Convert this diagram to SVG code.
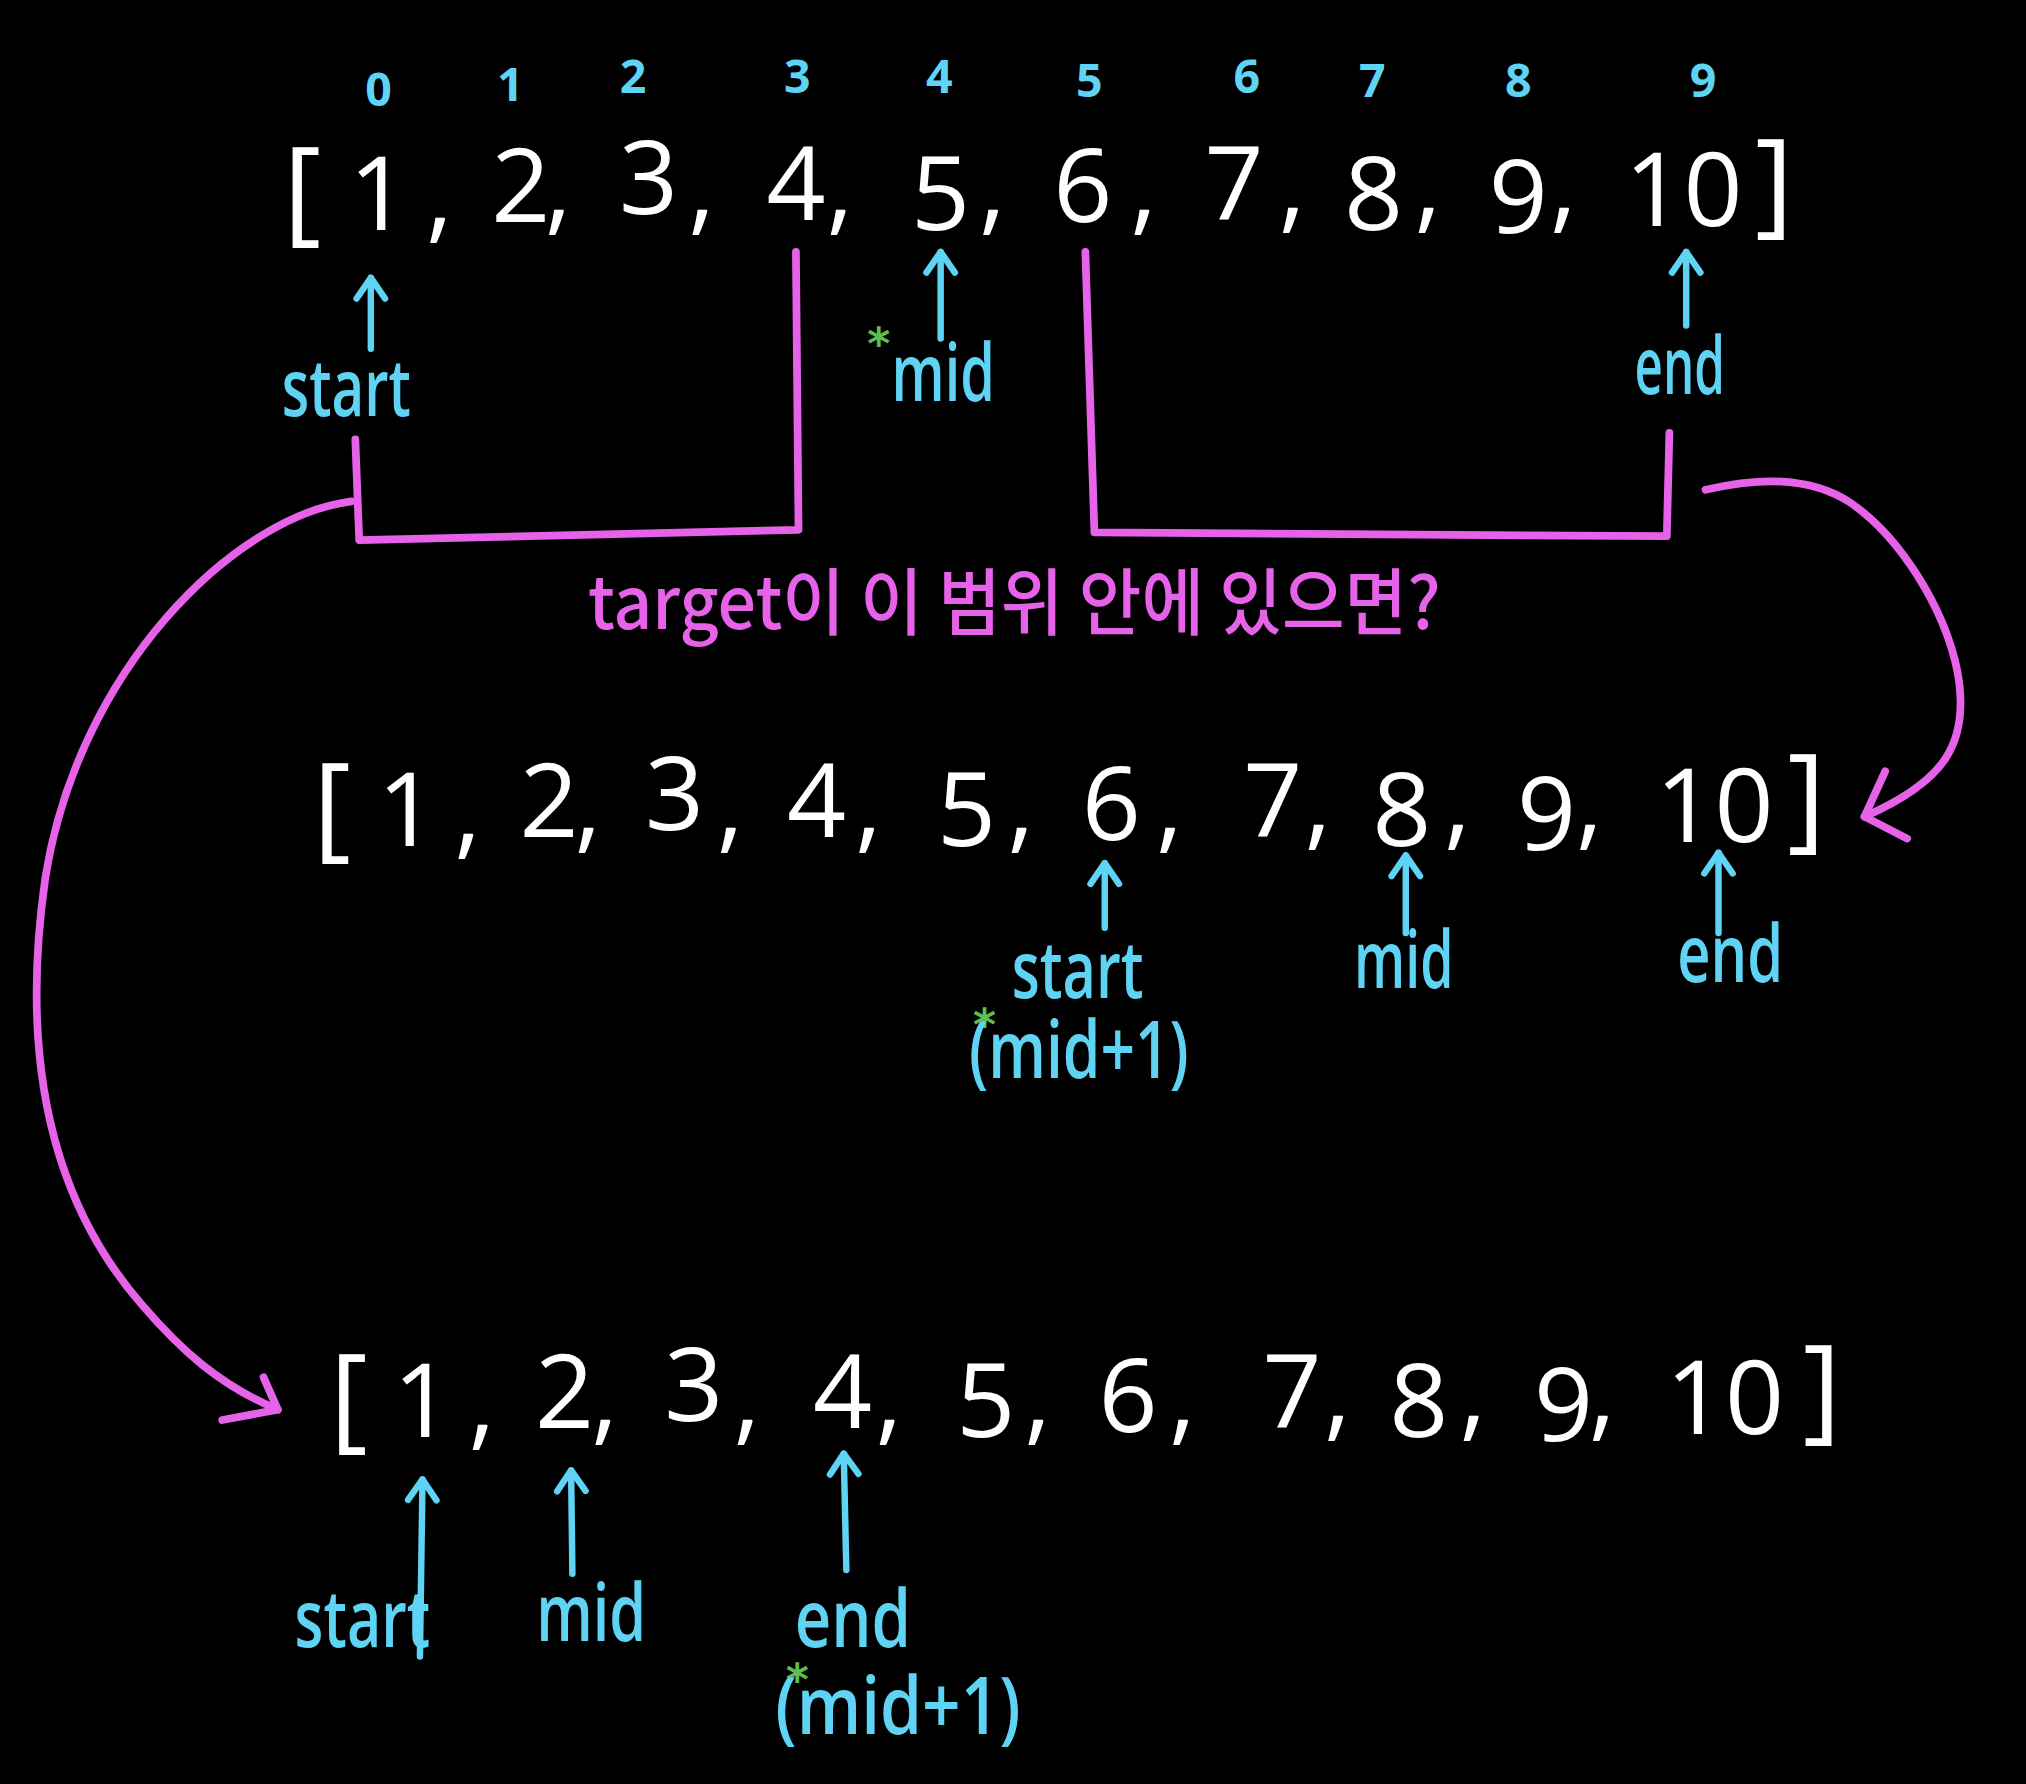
<svg xmlns="http://www.w3.org/2000/svg" width="2026" height="1784" viewBox="0 0 2026 1784">
<defs>
<style>
.num{font-family:"Open Sans","Noto Sans",sans-serif;font-weight:400;font-size:80px;fill:#ffffff;text-anchor:middle}
.br{font-family:"Open Sans","Noto Sans",sans-serif;font-weight:400;font-size:90px;fill:#ffffff;text-anchor:middle}
.idx{font-family:"Open Sans","Noto Sans",sans-serif;font-weight:700;font-size:36px;fill:#5fd3f3;text-anchor:middle}
.lbl{font-family:"Open Sans","Noto Sans",sans-serif;font-weight:600;font-size:62px;fill:#5fd3f3}
.ast{font-family:"DejaVu Sans",sans-serif;font-weight:700;font-size:34px;fill:#5cbf4f;text-anchor:middle}
.kr{font-family:"Noto Sans CJK KR","Noto Sans",sans-serif;font-weight:500;font-size:56px;fill:#e562e9}
.ar{fill:none;stroke:#5fd3f3;stroke-width:5;stroke-linecap:round}
.mg{fill:none;stroke:#e562e9;stroke-width:6;stroke-linecap:round;stroke-linejoin:round}
</style>
<marker id="up" markerUnits="userSpaceOnUse" markerWidth="40" markerHeight="40" refX="0" refY="0" viewBox="-20 -20 40 40" orient="auto" overflow="visible">
<path d="M-16,-11 L0,0 L-16,11" fill="none" stroke="#5fd3f3" stroke-width="5" stroke-linecap="round" stroke-linejoin="round"/>
</marker>
</defs>
<rect x="0" y="0" width="2026" height="1784" fill="#000000"/>
<g transform="scale(1.2921)">
<g id="indices">
<text class="idx" x="293" y="82">0</text>
<text class="idx" x="395" y="78">1</text>
<text class="idx" x="490" y="72">2</text>
<text class="idx" x="617" y="72">3</text>
<text class="idx" x="727" y="72">4</text>
<text class="idx" x="843" y="75">5</text>
<text class="idx" x="965" y="72">6</text>
<text class="idx" x="1062" y="75">7</text>
<text class="idx" x="1175" y="75">8</text>
<text class="idx" x="1318" y="75">9</text>
</g>
<g id="array1">
<text class="br" x="234" y="178">[</text>
<text class="num" x="293" y="178">1</text><text class="num" x="340" y="178">,</text>
<text class="num" x="403" y="172">2</text><text class="num" x="432" y="172">,</text>
<text class="num" x="502" y="166">3</text><text class="num" x="543" y="172">,</text>
<text class="num" x="616" y="170">4</text><text class="num" x="650" y="172">,</text>
<text class="num" x="728" y="178">5</text><text class="num" x="768" y="172">,</text>
<text class="num" x="838" y="172">6</text><text class="num" x="885" y="172">,</text>
<text class="num" x="955" y="170">7</text><text class="num" x="1000" y="170">,</text>
<text class="num" x="1063" y="178">8</text><text class="num" x="1105" y="170">,</text>
<text class="num" x="1175" y="180">9</text><text class="num" x="1210" y="170">,</text>
<text class="num" x="1303" y="175">10</text>
<text class="br" x="1373" y="172">]</text>
</g>
<g id="array2">
<text class="br" x="257" y="655">[</text>
<text class="num" x="315" y="655">1</text><text class="num" x="362" y="655">,</text>
<text class="num" x="425" y="648">2</text><text class="num" x="455" y="650">,</text>
<text class="num" x="522" y="642">3</text><text class="num" x="565" y="650">,</text>
<text class="num" x="632" y="648">4</text><text class="num" x="672" y="650">,</text>
<text class="num" x="748" y="655">5</text><text class="num" x="790" y="650">,</text>
<text class="num" x="860" y="650">6</text><text class="num" x="905" y="650">,</text>
<text class="num" x="985" y="648">7</text><text class="num" x="1020" y="648">,</text>
<text class="num" x="1085" y="655">8</text><text class="num" x="1128" y="648">,</text>
<text class="num" x="1197" y="658">9</text><text class="num" x="1230" y="648">,</text>
<text class="num" x="1327" y="652">10</text>
<text class="br" x="1398" y="648">]</text>
</g>
<g id="array3">
<text class="br" x="270" y="1112">[</text>
<text class="num" x="327" y="1112">1</text><text class="num" x="373" y="1112">,</text>
<text class="num" x="437" y="1105">2</text><text class="num" x="468" y="1108">,</text>
<text class="num" x="537" y="1100">3</text><text class="num" x="578" y="1108">,</text>
<text class="num" x="652" y="1105">4</text><text class="num" x="688" y="1108">,</text>
<text class="num" x="763" y="1112">5</text><text class="num" x="803" y="1108">,</text>
<text class="num" x="873" y="1108">6</text><text class="num" x="915" y="1108">,</text>
<text class="num" x="1000" y="1105">7</text><text class="num" x="1035" y="1105">,</text>
<text class="num" x="1098" y="1112">8</text><text class="num" x="1140" y="1105">,</text>
<text class="num" x="1210" y="1115">9</text><text class="num" x="1240" y="1105">,</text>
<text class="num" x="1335" y="1110">10</text>
<text class="br" x="1410" y="1105">]</text>
</g>
<g id="labels1">
<text class="lbl" x="218" y="322" textLength="100" lengthAdjust="spacingAndGlyphs">start</text>
<text class="ast" x="680" y="278">*</text>
<text class="lbl" x="690" y="310" textLength="80" lengthAdjust="spacingAndGlyphs">mid</text>
<text class="lbl" x="1265" y="305" textLength="70" lengthAdjust="spacingAndGlyphs">end</text>
</g>
<g id="labels2">
<text class="lbl" x="783" y="772" textLength="102" lengthAdjust="spacingAndGlyphs">start</text>
<text class="ast" x="762" y="805">*</text>
<text class="lbl" x="750" y="834" textLength="170" lengthAdjust="spacingAndGlyphs">(mid+1)</text>
<text class="lbl" x="1048" y="765" textLength="77" lengthAdjust="spacingAndGlyphs">mid</text>
<text class="lbl" x="1298" y="760" textLength="82" lengthAdjust="spacingAndGlyphs">end</text>
</g>
<g id="labels3">
<text class="lbl" x="228" y="1275" textLength="105" lengthAdjust="spacingAndGlyphs">start</text>
<text class="lbl" x="415" y="1270" textLength="85" lengthAdjust="spacingAndGlyphs">mid</text>
<text class="lbl" x="615" y="1275" textLength="90" lengthAdjust="spacingAndGlyphs">end</text>
<text class="ast" x="617" y="1312">*</text>
<text class="lbl" x="600" y="1342" textLength="190" lengthAdjust="spacingAndGlyphs">(mid+1)</text>
</g>
<g id="question">
<text class="kr" x="455" y="487" textLength="660" lengthAdjust="spacingAndGlyphs">target이 이 범위 안에 있으면?</text>
</g>
<g id="connectors">
<path class="ar" d="M287,270 L287,215" marker-end="url(#up)"/>
<path class="ar" d="M728,262 L728,195" marker-end="url(#up)"/>
<path class="ar" d="M1305,252 L1305,195" marker-end="url(#up)"/>
<path class="ar" d="M855,718 L855,668" marker-end="url(#up)"/>
<path class="ar" d="M1088,722 L1088,662" marker-end="url(#up)"/>
<path class="ar" d="M1330,722 L1330,660" marker-end="url(#up)"/>
<path class="ar" d="M325,1282 L327,1145" marker-end="url(#up)"/>
<path class="ar" d="M443,1218 L442,1138" marker-end="url(#up)"/>
<path class="ar" d="M655,1215 L653,1125" marker-end="url(#up)"/>
<path class="mg" d="M275,340 L278,418 L618,410 L616,195"/>
<path class="mg" d="M840,195 L847,412 L1290,415 L1292,335"/>
<path class="mg" d="M272,388 C180,400 60,520 35,680 C15,820 40,930 110,1010 C140,1045 170,1072 215,1091"/>
<path class="mg" d="M204,1066 L215,1091 L172,1099"/>
<path class="mg" d="M1320,379 C1360,370 1400,368 1432,389 C1470,415 1505,470 1515,520 C1525,575 1505,605 1443,632"/>
<path class="mg" d="M1459,597 L1443,632 L1476,649"/>
</g>
</g>
</svg>
